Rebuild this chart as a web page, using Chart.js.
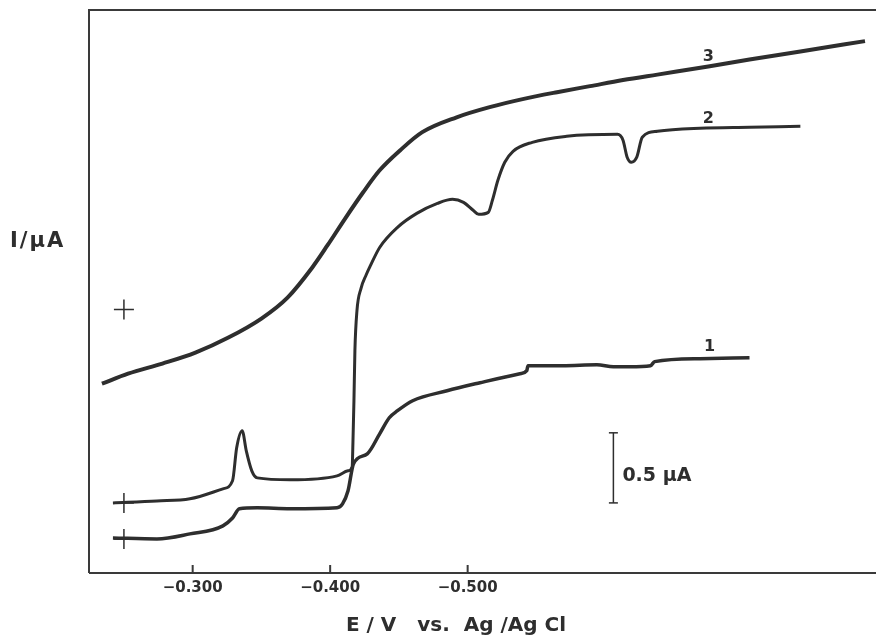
<!DOCTYPE html>
<html>
<head>
<meta charset="utf-8">
<script src="https://cdn.jsdelivr.net/npm/chart.js@4"></script>
<style>
html,body{margin:0;padding:0;background:#fff;}
canvas{display:block;}
</style>
</head>
<body>
<canvas id="c" width="876" height="636"></canvas>
<script>
// Potential E / V vs Ag/AgCl and current I / µA (arbitrary offset)
const E3 = [-0.234,-0.253,-0.278,-0.302,-0.326,-0.350,-0.369,-0.387,-0.398,-0.411,-0.424,-0.436,-0.451,-0.467,-0.492,-0.516,-0.540,-0.565,-0.589,-0.613,-0.638,-0.675,-0.705,-0.742,-0.789];
const I3 = [1.345,1.416,1.488,1.566,1.673,1.808,1.957,2.171,2.327,2.520,2.705,2.861,3.004,3.132,3.238,3.310,3.367,3.416,3.459,3.502,3.541,3.598,3.648,3.705,3.779];

const E2 = [-0.242,-0.274,-0.298,-0.322,-0.329,-0.332,-0.336,-0.339,-0.343,-0.347,-0.371,-0.405,-0.413,-0.416,-0.4166,-0.4173,-0.418,-0.4195,-0.4224,-0.426,-0.429,-0.436,-0.449,-0.463,-0.478,-0.489,-0.497,-0.504,-0.508,-0.515,-0.518,-0.522,-0.527,-0.533,-0.547,-0.572,-0.609,-0.613,-0.616,-0.619,-0.623,-0.627,-0.638,-0.669,-0.705,-0.742];
const I2 = [0.498,0.512,0.527,0.598,0.655,0.890,1.011,0.868,0.726,0.676,0.662,0.690,0.726,0.754,0.940,1.224,1.580,1.865,2.021,2.114,2.178,2.313,2.456,2.555,2.626,2.655,2.633,2.577,2.548,2.562,2.648,2.790,2.918,2.996,3.060,3.103,3.117,3.075,2.954,2.918,2.954,3.096,3.139,3.160,3.167,3.174];

const E1 = [-0.242,-0.274,-0.298,-0.322,-0.329,-0.334,-0.347,-0.371,-0.405,-0.409,-0.413,-0.417,-0.427,-0.436,-0.443,-0.449,-0.460,-0.485,-0.509,-0.538,-0.543,-0.5439,-0.569,-0.594,-0.606,-0.618,-0.633,-0.636,-0.669,-0.705];
const I1 = [0.249,0.242,0.278,0.335,0.391,0.456,0.463,0.456,0.463,0.491,0.584,0.776,0.847,0.989,1.103,1.153,1.224,1.295,1.352,1.416,1.438,1.473,1.473,1.480,1.466,1.466,1.473,1.502,1.523,1.530];

// zero-current markers (+) for each curve
const crossE = [-0.250,-0.250,-0.250];
const crossI = [1.872,0.498,0.242];

// 0.5 µA scale bar
const barE = [-0.606,-0.606];
const barI = [0.498,0.996];

const xTicks = [-0.300,-0.400,-0.500];
const curveLabels = ['1','2','3'];
const curveLabelE = [-0.676,-0.675,-0.675];
const curveLabelI = [1.609,3.224,3.665];

const xTitle = 'E / V   vs.  Ag /Ag Cl';
const yTitle = 'I/\u00B5A';
const barText = '0.5 \u00B5A';

const pts = (xs, ys) => xs.map((x, i) => ({x: x, y: ys[i]}));
const INK = '#2e2e2e';

const decor = {
  id: 'decor',
  afterDraw(chart) {
    const ctx = chart.ctx;
    const a = chart.chartArea;
    const xs = chart.scales.x, ys = chart.scales.y;
    ctx.save();
    ctx.strokeStyle = '#3a3a3a';
    ctx.lineWidth = 2;
    ctx.beginPath();
    ctx.moveTo(a.left, a.bottom);
    ctx.lineTo(a.left, a.top);
    ctx.lineTo(chart.width, a.top);
    ctx.moveTo(a.left, a.bottom);
    ctx.lineTo(chart.width, a.bottom);
    ctx.stroke();
    // inner ticks
    ctx.beginPath();
    xTicks.forEach(v => {
      const px = xs.getPixelForValue(v);
      ctx.moveTo(px, a.bottom);
      ctx.lineTo(px, a.bottom - 8);
    });
    ctx.stroke();
    // curve labels
    ctx.fillStyle = INK;
    ctx.font = 'bold 16px "DejaVu Sans"';
    ctx.textAlign = 'center';
    ctx.textBaseline = 'middle';
    curveLabels.forEach((t, i) => {
      ctx.fillText(t, xs.getPixelForValue(curveLabelE[i]), ys.getPixelForValue(curveLabelI[i]));
    });
    // scale bar text
    ctx.font = 'bold 19px "DejaVu Sans"';
    ctx.textAlign = 'left';
    ctx.textBaseline = 'alphabetic';
    ctx.fillText(barText, xs.getPixelForValue(barE[0]) + 9, ys.getPixelForValue((barI[0] + barI[1]) / 2) + 13);
    // y title
    ctx.font = 'bold 21px "DejaVu Sans"';
    ctx.letterSpacing = '2px';
    ctx.fillText(yTitle, 10, 247);
    ctx.letterSpacing = '0px';
    // x title
    ctx.textAlign = 'center';
    ctx.font = 'bold 20px "DejaVu Sans"';
    ctx.fillText(xTitle, xs.getPixelForValue(-0.4915), 631);
    ctx.restore();
  }
};

new Chart(document.getElementById('c'), {
  type: 'line',
  data: {
    datasets: [
      {data: pts(E3, I3), borderColor: INK, borderWidth: 4, pointRadius: 0, cubicInterpolationMode: 'monotone', fill: false},
      {data: pts(E2, I2), borderColor: INK, borderWidth: 3, pointRadius: 0, cubicInterpolationMode: 'monotone', fill: false},
      {data: pts(E1, I1), borderColor: INK, borderWidth: 3.5, pointRadius: 0, cubicInterpolationMode: 'monotone', fill: false},
      {data: pts(crossE, crossI), showLine: false, pointStyle: 'cross', pointRadius: 10, pointBorderWidth: 1.5, borderColor: INK, pointBorderColor: INK},
      {data: pts(barE, barI), borderColor: INK, borderWidth: 1.5, pointStyle: 'line', pointRadius: 4.5, pointBorderWidth: 1.5, pointBorderColor: INK}
    ]
  },
  options: {
    responsive: false,
    animation: false,
    events: [],
    layout: {autoPadding: false, padding: {left: 89, right: 0, top: 10, bottom: 33}},
    plugins: {legend: {display: false}, tooltip: {enabled: false}},
    scales: {
      x: {
        type: 'linear',
        reverse: true,
        min: -0.797,
        max: -0.2246,
        afterBuildTicks: s => { s.ticks = xTicks.map(v => ({value: v})); },
        ticks: {
          padding: 6,
          color: INK,
          font: {family: 'DejaVu Sans', size: 15, weight: 'bold'},
          callback: v => '\u2212' + Math.abs(v).toFixed(3)
        },
        grid: {display: false, drawTicks: false},
        border: {display: false}
      },
      y: {
        type: 'linear',
        display: false,
        min: 0,
        max: 4.0
      }
    }
  },
  plugins: [decor]
});
</script>
</body>
</html>
